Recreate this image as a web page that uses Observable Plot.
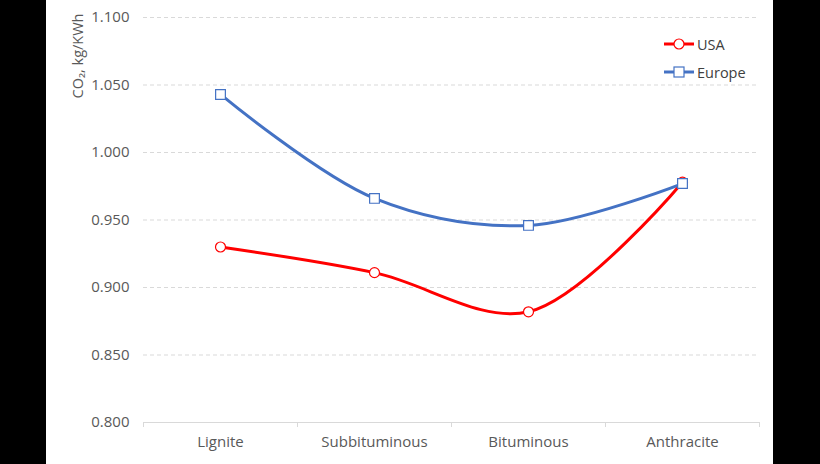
<!DOCTYPE html>
<html>
<head>
<meta charset="utf-8">
<script src="https://cdn.jsdelivr.net/npm/d3@7"></script>
<script src="https://cdn.jsdelivr.net/npm/@observablehq/plot@0.6"></script>
<style>
  html, body { margin: 0; padding: 0; background: #000; }
  #wrap { position: absolute; left: 46px; top: 0; width: 727px; height: 464px; background: #fff; }
  #legend { position: absolute; left: 618px; top: 30px; font-family: "Open Sans", sans-serif; font-size: 14.5px; color: #404040; }
  #legend .row { display: flex; align-items: center; height: 28px; }
  #legend svg { margin-right: 3px; }
</style>
</head>
<body>
<div id="wrap"></div>
<script>
const categories = ["Lignite", "Subbituminous", "Bituminous", "Anthracite"];
const usa = [0.930, 0.911, 0.882, 0.978];
const europe = [1.043, 0.966, 0.946, 0.977];
const yTicks = [0.800, 0.850, 0.900, 0.950, 1.000, 1.050, 1.100];
const boundaries = [-0.5, 0.5, 1.5, 2.5, 3.5];
const seriesNames = ["USA", "Europe"];
const seriesColors = ["#FF0000", "#4472C4"];

const idx = categories.map((c, i) => i);
const usaData = idx.map(i => ({i, v: usa[i]}));
const euData = idx.map(i => ({i, v: europe[i]}));

const font = "Open Sans, sans-serif";
const gray = "#595959";

const chart = Plot.plot({
  width: 727,
  height: 464,
  marginLeft: 97,
  marginRight: 14,
  marginTop: 17,
  marginBottom: 42,
  style: {fontFamily: font, fontSize: "15px", color: gray, background: "transparent"},
  x: {type: "linear", domain: [-0.5, 3.5]},
  y: {domain: [0.8, 1.1]},
  marks: [
    Plot.gridY(yTicks.filter(t => t > 0.8), {stroke: "#d9d9d9", strokeOpacity: 1, strokeDasharray: "4,3"}),
    Plot.ruleY([0.8], {stroke: "#d9d9d9", strokeWidth: 1}),
    Plot.axisX({ticks: boundaries, tickFormat: () => "", tickSize: 5, stroke: "#d9d9d9", label: null}),
    Plot.axisX({ticks: idx, tickFormat: i => categories[i], tickSize: 0, tickPadding: 14, label: null, fontSize: 15, fill: gray}),
    Plot.axisY({ticks: yTicks, tickFormat: d3.format(".3f"), tickSize: 0, tickPadding: 14, label: null, fontSize: 15, fill: gray}),
    Plot.text(["CO\u2082, kg/KWh"], {frameAnchor: "top-left", rotate: -90, textAnchor: "end", dx: -71, dy: -4, fontSize: 14.5, fill: gray}),
    Plot.line(usaData, {x: "i", y: "v", stroke: seriesColors[0], strokeWidth: 3, curve: "catmull-rom"}),
    Plot.dot(usaData, {x: "i", y: "v", symbol: "circle", r: 5, fill: "white", stroke: seriesColors[0], strokeWidth: 1.2}),
    Plot.line(euData, {x: "i", y: "v", stroke: seriesColors[1], strokeWidth: 3, curve: "catmull-rom"}),
    Plot.dot(euData, {x: "i", y: "v", symbol: "square", r: 5.5, fill: "white", stroke: seriesColors[1], strokeWidth: 1.2})
  ]
});
const wrap = document.getElementById("wrap");
wrap.appendChild(chart);

const legend = document.createElement("div");
legend.id = "legend";
seriesNames.forEach((name, k) => {
  const row = document.createElement("div");
  row.className = "row";
  const shape = k === 0
    ? `<circle cx="15" cy="7" r="5" fill="white" stroke="${seriesColors[k]}" stroke-width="1.2"/>`
    : `<rect x="10" y="2" width="10" height="10" fill="white" stroke="${seriesColors[k]}" stroke-width="1.2"/>`;
  row.innerHTML = `<svg width="30" height="14"><line x1="0" x2="30" y1="7" y2="7" stroke="${seriesColors[k]}" stroke-width="3"/>${shape}</svg><span>${name}</span>`;
  legend.appendChild(row);
});
wrap.appendChild(legend);
</script>
</body>
</html>
